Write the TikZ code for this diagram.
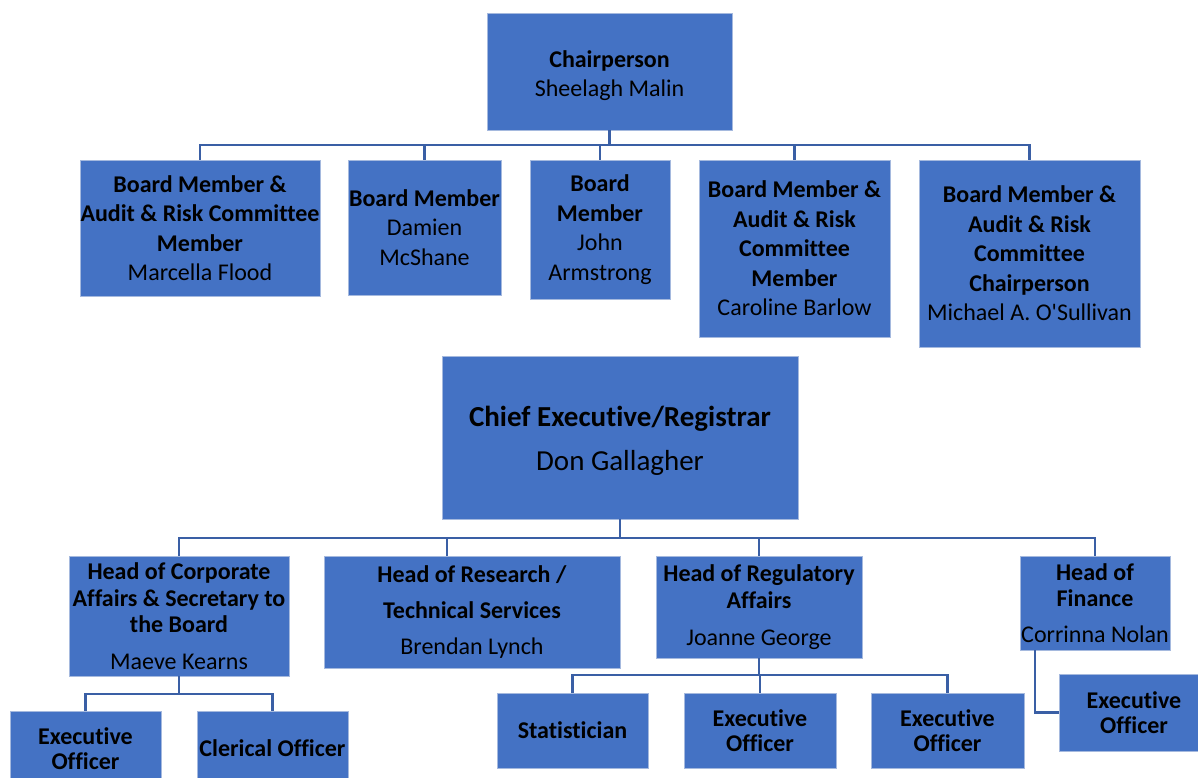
\documentclass[tikz,border=0pt]{standalone}
\usepackage{fontspec}
\setmainfont{Carlito}[Ligatures={TeXOff,CommonOff}]
\usetikzlibrary{calc}
\definecolor{boxfill}{HTML}{4472C4}
\definecolor{boxedge}{RGB}{165,185,222}
\definecolor{conncol}{RGB}{58,95,165}
\begin{document}
\begin{tikzpicture}[x=1pt,y=-1pt,
  orgbox/.style={rectangle, fill=boxfill, draw=boxedge, line width=0.8pt, inner sep=0pt, align=center, text=black,
     font=\fontsize{24}{29.5}\selectfont},
  conn/.style={draw=conncol, line width=2.7pt}]
\useasboundingbox (0,0) rectangle (1198,778);
\fill[white] (0,0) rectangle (1198,778);
% Board
\node[orgbox, minimum width=245pt, minimum height=117pt] (chair) at (609.5,71.5) {\rule{0pt}{25pt}\textbf{Chairperson}\\Sheelagh Malin};
\node[orgbox, minimum width=240pt, minimum height=136pt] (b1) at (200,228) {\textbf{Board Member \&}\\\textbf{Audit \& Risk Committee}\\\textbf{Member}\\Marcella Flood};
\node[orgbox, minimum width=153pt, minimum height=135pt] (b2) at (424.5,227.5) {\textbf{Board Member}\\Damien\\McShane};
\node[orgbox, minimum width=140pt, minimum height=139pt] (b3) at (600,229.5) {\textbf{Board}\\\textbf{Member}\\John\\Armstrong};
\node[orgbox, minimum width=191pt, minimum height=177pt] (b4) at (794.5,248.5) {\textbf{Board Member \&}\\\textbf{Audit \& Risk}\\\textbf{Committee}\\\textbf{Member}\\Caroline Barlow};
\node[orgbox, minimum width=221pt, minimum height=187pt] (b5) at (1029.5,253.5) {\textbf{Board Member \&}\\\textbf{Audit \& Risk}\\\textbf{Committee}\\\textbf{Chairperson}\\Michael A. O'Sullivan};
% CEO
\node[orgbox, minimum width=356pt, minimum height=163pt, font=\fontsize{29}{44}\selectfont] (ceo) at (620,437.5) {\rule{0pt}{27pt}\textbf{Chief Executive/Registrar}\\Don Gallagher};
% Heads
\node[orgbox, minimum width=220pt, minimum height=120pt, font=\fontsize{24}{26.5}\selectfont] (h1) at (179,616) {\textbf{Head of Corporate}\\\textbf{Affairs \& Secretary to}\\\textbf{the Board}\\[10pt]Maeve Kearns};
\node[orgbox, minimum width=296pt, minimum height=112pt, font=\fontsize{24}{36}\selectfont] (h2) at (472,612) {\textbf{Head of Research /}\\\textbf{Technical Services}\\Brendan Lynch};
\node[orgbox, minimum width=206pt, minimum height=102pt, font=\fontsize{24}{26.5}\selectfont] (h3) at (759,607) {\textbf{Head of Regulatory}\\\textbf{Affairs}\\[10.5pt]Joanne George};
\node[orgbox, minimum width=150pt, minimum height=94pt, font=\fontsize{24}{26.5}\selectfont] (h4) at (1095,603) {\textbf{Head of}\\\textbf{Finance}\\[9.5pt]Corrinna Nolan};
% Staff
\node[orgbox, minimum width=151pt, minimum height=75pt, font=\fontsize{24}{25}\selectfont] (s1) at (85.5,748.5) {\textbf{Executive}\\\textbf{Officer}};
\node[orgbox, minimum width=151pt, minimum height=75pt, font=\fontsize{24}{25}\selectfont] (s2) at (272.5,748.5) {\textbf{Clerical Officer}};
\node[orgbox, minimum width=151pt, minimum height=75pt, font=\fontsize{24}{25}\selectfont] (s3) at (572.5,730.5) {\textbf{Statistician}};
\node[orgbox, minimum width=152pt, minimum height=75pt, font=\fontsize{24}{25}\selectfont] (s4) at (760,730.5) {\textbf{Executive}\\\textbf{Officer}};
\node[orgbox, minimum width=153pt, minimum height=75pt, font=\fontsize{24}{25}\selectfont] (s5) at (947.5,730.5) {\textbf{Executive}\\\textbf{Officer}};
\node[orgbox, minimum width=150pt, minimum height=77pt, font=\fontsize{24}{25}\selectfont] (s6) at (1134,712.5) {\textbf{Executive}\\\textbf{Officer}};
% bus coordinates
\coordinate (busA) at (0,145);
\coordinate (busB) at (0,538);
\coordinate (busC) at (0,694);
\coordinate (busD) at (0,675);
\coordinate (h2drop) at (447,556);
\coordinate (h4drop) at (1035,650);
% connectors: board
\draw[conn] (chair.south) -- (chair.south |- busA);
\draw[conn] (b1.north) -- (b1.north |- busA) -- (b5.north |- busA) -- (b5.north);
\draw[conn] (b2.north) -- (b2.north |- busA);
\draw[conn] (b3.north) -- (b3.north |- busA);
\draw[conn] (b4.north) -- (b4.north |- busA);
% connectors: CEO
\draw[conn] (ceo.south) -- (ceo.south |- busB);
\draw[conn] (h1.north) -- (h1.north |- busB) -- (h4.north |- busB) -- (h4.north);
\draw[conn] (h2drop) -- (h2drop |- busB);
\draw[conn] (h3.north) -- (h3.north |- busB);
% connectors: Maeve
\draw[conn] (h1.south) -- (h1.south |- busC);
\draw[conn] (s1.north) -- (s1.north |- busC) -- (s2.north |- busC) -- (s2.north);
% connectors: Joanne
\draw[conn] (h3.south) -- (h3.south |- busD);
\draw[conn] (s3.north) -- (s3.north |- busD) -- (s5.north |- busD) -- (s5.north);
\draw[conn] (s4.north) -- (s4.north |- busD);
% connectors: Corrinna
\draw[conn] (h4drop) |- (s6.west);
\end{tikzpicture}
\end{document}
